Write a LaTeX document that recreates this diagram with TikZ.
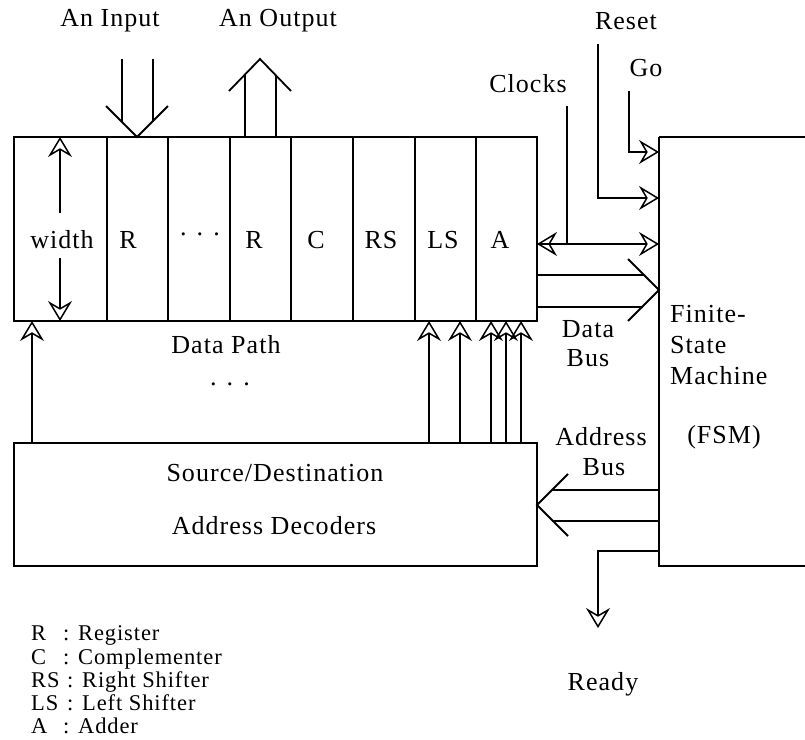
\documentclass[tikz,border=0pt]{standalone}
\usepackage{fontspec}
\setmainfont[LetterSpace=4]{Liberation Serif}
\usetikzlibrary{arrows.meta}
\begin{document}
\begin{tikzpicture}[x=1pt,y=-1pt,
  thick line/.style={line width=1.8pt},
  thin line/.style={line width=1.2pt},
  oarr/.style={-{Stealth[open,length=20pt,width=24pt,inset=7pt,line width=1.5pt]}},
  label/.style={font=\fontsize{26}{30}\selectfont, inner sep=0pt},
  legend/.style={font=\fontsize{22.5}{26}\selectfont, inner sep=0pt, anchor=base west}]
\useasboundingbox (0,0) rectangle (805,739);

% ---- data path block ----
\draw[thick line] (14,137) rectangle (537,321);
\foreach \x in {107,168,230,291,353,415,476}
  \draw[thin line] (\x,137) -- (\x,321);
\node[label] (wd) at (62,240) {width};
\node[label] at (128,240) {R};
\node[label] at (200,234) {. . .};
\node[label] at (254,240) {R};
\node[label] at (316,240) {C};
\node[label] at (381,240) {RS};
\node[label] at (443,240) {LS};
\node[label] at (500,240) {A};
\coordinate (wtop) at (60,137);
\coordinate (wbot) at (60,321);
\draw[thin line, oarr] (60,213) -- (wtop);
\draw[thin line, oarr] (60,258) -- (wbot);
\node[label] (dp) at (226,345) {Data Path};
\node[label] at (230,384) {. . .};

% ---- decoder block ----
\draw[thick line] (14,443) rectangle (537,566);
\node[label] (sd) at (275,473) {Source/Destination};
\node[label] (ad) at (274,526) {Address Decoders};

% ---- decoder outputs into the data path ----
\foreach \x in {32,429,460,491,506,521}
  \draw[thin line, oarr] (\x,443) -- (\x,321);

% ---- finite-state machine ----
\draw[thick line] (659,137) -- (659,566) -- (805,566);
\draw[thick line] (659,137) -- (805,137);
\node[label, anchor=west] at (670,314) {Finite-};
\node[label, anchor=west] at (670,345) {State};
\node[label, anchor=west] at (670,376) {Machine};
\node[label] at (724,437) {(FSM)};

% ---- input and output buses ----
\node[label] (inl) at (110,21) {An Input};
\node[label] (outl) at (278,21) {An Output};
\draw[thick line] (106,106) -- (137,137) -- (168,106);
\draw[thick line] (122,59) -- (122,122);
\draw[thick line] (153,59) -- (153,122);
\draw[thick line] (229,91) -- (260,59) -- (291,91);
\draw[thick line] (245,137) -- (245,75);
\draw[thick line] (276,137) -- (276,75);

% ---- control lines ----
\node[label] (resetl) at (626,21) {Reset};
\node[label] (gol) at (646,68) {Go};
\node[label] (clkl) at (528,84) {Clocks};
\coordinate (goin) at (659,152);
\coordinate (rsin) at (659,198);
\coordinate (ckin) at (659,244);
\coordinate (ckdp) at (537,244);
\draw[thin line, oarr] (629,91) |- (goin);
\draw[thin line, oarr] (598,44) |- (rsin);
\draw[thin line, oarr] (ckdp) -- (ckin);
\draw[thin line, oarr] (567,244) -- (ckdp);
\draw[thin line] (567,106) -- (567,244);

% ---- data bus ----
\draw[thick line] (628,259) -- (659,290) -- (628,321);
\draw[thick line] (537,275) -- (644,275);
\draw[thick line] (537,307) -- (643,307);
\node[label] at (588,329) {Data};
\node[label] at (588,358) {Bus};

% ---- address bus ----
\draw[thick line] (568,474) -- (537,505) -- (568,536);
\draw[thick line] (659,490) -- (552,490);
\draw[thick line] (659,521) -- (552,521);
\node[label] at (601,437) {Address};
\node[label] at (604,467) {Bus};

% ---- ready output ----
\coordinate (rdy) at (598,628);
\draw[thin line, oarr] (659,551) -| (rdy);
\node[label] (rdyl) at (603,684) {Ready};

% ---- legend ----
\node[legend] at (31,640) {R};   \node[legend] at (63,640) {: Register};
\node[legend] at (31,664) {C};   \node[legend] at (63,664) {: Complementer};
\node[legend] at (31,687) {RS};  \node[legend] at (67,687) {: Right Shifter};
\node[legend] at (31,710) {LS};  \node[legend] at (67,710) {: Left Shifter};
\node[legend] at (31,733) {A};   \node[legend] at (63,733) {: Adder};
\end{tikzpicture}
\end{document}
